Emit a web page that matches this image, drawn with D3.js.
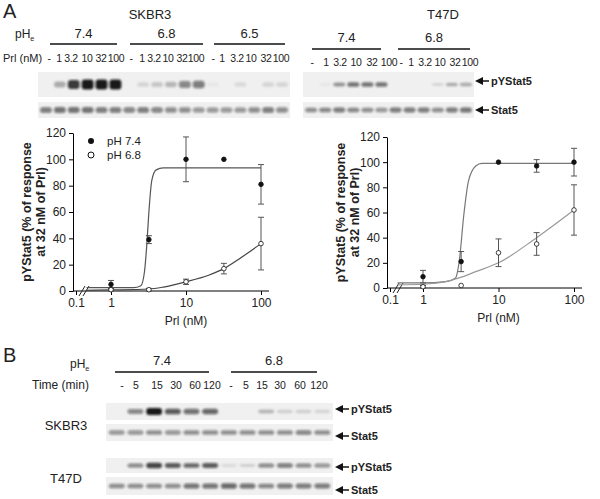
<!DOCTYPE html>
<html><head><meta charset="utf-8">
<script src="https://cdn.jsdelivr.net/npm/d3@7"></script>
<style>body{margin:0;background:#fff}text{font-family:Arial,"Liberation Sans",sans-serif;fill:#222}</style>
</head><body><div id="chart"></div>
<script>
// ---- data ----
const prlLabels = ['-', '1', '3.2', '10', '32', '100'];
const timeLabels = ['-', '5', '15', '30', '60', '120'];
const prlDoses = [1, 3.2, 10, 32, 100];

// band intensities (0..1)
const skbrPY_A = [0, .3, .85, 1, 1, 1, 0, .12, .18, .25, .5, .55, .04, 0, .1, 0, .12, .12];
const skbrStat_A = [.7, .75, .75, .75, .7, .7, .65, .7, .65, .6, .6, .55, .55, .55, .55, .6, .7, .6];
const t47PY_A = [0, .05, .4, .6, .6, .6, 0, 0, 0, .12, .3, .35];
const t47Stat_A = [.6, .65, .7, .65, .6, .55, .7, .7, .7, .6, .7, .75];
const skbrPY_B = [0, .5, 1, .7, .6, .65, 0, 0, .25, .15, .15, .12];
const skbrStat_B = [.55, .55, .6, .55, .6, .6, .6, .6, .6, .6, .65, .6];
const t47PY_B = [0, .5, .8, .7, .65, .7, .1, .15, .5, .55, .5, .45];
const t47Stat_B = [.6, .6, .6, .6, .75, .75, .8, .75, .65, .7, .7, .7];

// dose response, SKBR3
const sk74 = [5, 39, 100, 100, 81];
const sk74Err = [3, 3, 17, 0, 15];
const sk68 = [1, 1, 7, 17, 36];
const sk68Err = [1, 1, 2, 4, 20];
const sk74FitX = [0.2, 1, 2, 2.5, 2.8, 3, 3.2, 3.5, 4, 5, 100];
const sk74FitY = [2.5, 2.5, 2.5, 4, 15, 35, 60, 84, 92, 93.5, 93.5];
const sk68FitX = [0.2, 1, 3.2, 5, 10, 20, 32, 50, 100];
const sk68FitY = [0.5, 0.8, 1.5, 3, 7, 12, 17, 24, 36];
// dose response, T47D
const t74 = [9, 21, 100, 97, 100];
const t74Err = [5, 8, 0, 5, 11];
const t68 = [1, 2, 28, 35, 62];
const t68Err = [1, 0, 11, 9, 20];
const t74FitX = [0.17, 1, 2, 2.7, 3, 3.5, 4, 5, 6, 100];
const t74FitY = [4, 4, 5, 8, 20, 60, 85, 97, 99, 99];
const t68FitX = [0.17, 1, 2, 3, 5, 10, 32, 100];
const t68FitY = [2.5, 3, 5, 8, 13, 20, 40, 62];
const yTicks = [0, 20, 40, 60, 80, 100, 120];
const xTicks = [0.1, 1, 10, 100];

const svg = d3.select('#chart').append('svg').attr('width', 600).attr('height', 499);
const defs = svg.append('defs');
defs.append('filter').attr('id', 'blur').attr('x', '-50%').attr('y', '-50%').attr('width', '200%').attr('height', '200%')
  .append('feGaussianBlur').attr('stdDeviation', 1.1);

function txt(x, y, s, size, opts = {}) {
  return svg.append('text').attr('x', x).attr('y', y).attr('font-size', size)
    .attr('text-anchor', opts.anchor || 'middle').attr('font-weight', opts.bold ? 'bold' : null).text(s);
}
function phe(x, y, size) {
  const t = txt(x, y, 'pH', size, { anchor: 'start' });
  t.append('tspan').attr('font-size', size * 0.6).attr('dy', 3).text('e');
}

// blot strip: lanes spread across [x0,x1]
function blot(x0, x1, y0, y1, vals, bandH, maxOp) {
  svg.append('rect').attr('x', x0).attr('y', y0).attr('width', x1 - x0).attr('height', y1 - y0).attr('fill', '#f0f0f0');
  const lane = d3.scaleBand().domain(d3.range(vals.length)).range([x0, x1]).padding(0.15);
  const op = d3.scaleLinear().domain([0, 1]).range([0, maxOp]);
  svg.append('g').attr('filter', 'url(#blur)').selectAll('rect').data(vals).join('rect')
    .attr('x', (d, i) => lane(i)).attr('width', lane.bandwidth())
    .attr('y', d => (y0 + y1) / 2 - bandH * (0.4 + d * 0.6) / 2)
    .attr('height', d => bandH * (0.4 + d * 0.6))
    .attr('rx', 3).attr('fill', '#111').attr('opacity', d => op(d));
}
function arrowLabel(x, y, s, size) {
  svg.append('path').attr('d', `M${x},${y} l8,-4 v8 z`).attr('fill', '#111');
  svg.append('line').attr('x1', x + 6).attr('x2', x + 14).attr('y1', y).attr('y2', y).attr('stroke', '#111').attr('stroke-width', 1.5);
  txt(x + 16, y + 4, s, size, { anchor: 'start', bold: true });
}
function groupLine(x0, x1, y) {
  svg.append('line').attr('x1', x0).attr('x2', x1).attr('y1', y).attr('y2', y).attr('stroke', '#111').attr('stroke-width', 1.3);
}

// ---- panel A header ----
txt(3, 18, 'A', 20, { anchor: 'start' });
txt(150, 19, 'SKBR3', 13);
txt(443, 19, 'T47D', 13);
phe(15, 38, 12);
txt(3, 62, 'Prl (nM)', 11, { anchor: 'start' });
[['7.4', 50, 117], ['6.8', 130, 203], ['6.5', 214, 285]].forEach(([s, a, b]) => { txt((a + b) / 2, 38, s, 13); groupLine(a, b, 44); });
[['7.4', 312, 381], ['6.8', 398, 470]].forEach(([s, a, b]) => { txt((a + b) / 2, 42, s, 13); groupLine(a, b, 49); });
const skLaneX = [49, 59, 71, 87, 101, 116, 131, 142, 154, 168, 182, 196, 213, 222, 237, 251, 266, 281];
skLaneX.forEach((x, i) => txt(x, 62, prlLabels[i % 6], 10.5).attr('letter-spacing', -0.4));
const tLaneX = [312, 326, 340, 356, 372, 389, 401, 411, 425, 440, 455, 470];
tLaneX.forEach((x, i) => txt(x, 66, prlLabels[i % 6], 10.5).attr('letter-spacing', -0.4));
blot(38, 290, 72, 97, skbrPY_A, 10, 0.95);
blot(38, 290, 102, 118, skbrStat_A, 7, 0.75);
blot(303, 474, 72, 97, t47PY_A, 6, 0.95);
blot(303, 474, 102, 118, t47Stat_A, 6, 0.75);
arrowLabel(475, 81, 'pYStat5', 11);
arrowLabel(475, 110, 'Stat5', 11);

// ---- dose-response charts ----
function doseChart(xr, yr, pts74, err74, pts68, err68, fit74, fit68, curveColor) {
  const x = d3.scaleLog().domain([0.1, 1, 100]).range(xr);
  const y = d3.scaleLinear().domain([0, 120]).range(yr);
  const g = svg.append('g');
  g.append('g').attr('transform', `translate(${xr[0] - 3},0)`)
    .call(d3.axisLeft(y).tickValues(yTicks).tickSize(4).tickSizeOuter(0))
    .call(a => a.selectAll('text').attr('font-size', 12).attr('fill', '#222'));
  g.append('g').attr('transform', `translate(0,${yr[0]})`)
    .call(d3.axisBottom(x).tickValues(xTicks).tickFormat(d3.format('')).tickSize(4).tickSizeOuter(0))
    .call(a => a.select('.domain').attr('d', `M${xr[0] - 3},0H${xr[2] + 8}`))
    .call(a => a.selectAll('text').attr('font-size', 12).attr('fill', '#222'));
  // axis break marks
  const bx = x(0.1) + 6;
  [0, 4].forEach(o => g.append('line').attr('x1', bx + o - 3).attr('x2', bx + o + 3).attr('y1', yr[0] + 5).attr('y2', yr[0] - 5).attr('stroke', '#222'));
  const line = d3.line().x(d => x(d[0])).y(d => y(d[1])).curve(d3.curveMonotoneX);
  [[fit74, curveColor[0]], [fit68, curveColor[1]]].forEach(([f, c]) =>
    g.append('path').attr('d', line(d3.zip(f[0], f[1]))).attr('fill', 'none').attr('stroke', c).attr('stroke-width', 1.2));
  [[pts74, err74, '#111'], [pts68, err68, '#fff']].forEach(([p, e, fill]) => {
    const s = g.append('g');
    s.selectAll('path.err').data(prlDoses).join('path').attr('class', 'err')
      .attr('d', (d, i) => e[i] ? `M${x(d) - 3},${y(p[i] + e[i])}h6M${x(d)},${y(p[i] + e[i])}V${y(p[i] - e[i])}M${x(d) - 3},${y(p[i] - e[i])}h6` : '')
      .attr('stroke', '#555').attr('fill', 'none');
    s.selectAll('circle').data(prlDoses).join('circle').attr('cx', d => x(d)).attr('cy', (d, i) => y(p[i]))
      .attr('r', 2.3).attr('fill', fill).attr('stroke', '#111').attr('stroke-width', 0.8);
  });
  txt(x(10), yr[0] + 34, 'Prl (nM)', 12);
  const lx = xr[0] - 45, ly = (yr[0] + yr[1]) / 2;
  txt(0, 0, 'pYStat5 (% of response', 12.5, { bold: true }).attr('transform', `translate(${lx},${ly}) rotate(-90)`);
  txt(0, 0, 'at 32 nM of Prl)', 12.5, { bold: true }).attr('transform', `translate(${lx + 14},${ly}) rotate(-90)`);
}
doseChart([76, 111, 261], [291, 133], sk74, sk74Err, sk68, sk68Err, [sk74FitX, sk74FitY], [sk68FitX, sk68FitY], ['#555', '#444']);
doseChart([390, 423, 574], [288, 137], t74, t74Err, t68, t68Err, [t74FitX, t74FitY], [t68FitX, t68FitY], ['#777', '#999']);
// legend
svg.append('circle').attr('cx', 91).attr('cy', 141).attr('r', 3).attr('fill', '#111');
svg.append('circle').attr('cx', 91).attr('cy', 155).attr('r', 3).attr('fill', '#fff').attr('stroke', '#111');
txt(107, 145, 'pH 7.4', 11.5, { anchor: 'start' });
txt(107, 159, 'pH 6.8', 11.5, { anchor: 'start' });

// ---- panel B ----
txt(3, 362, 'B', 20, { anchor: 'start' });
phe(70, 368, 12);
txt(32, 389, 'Time (min)', 12, { anchor: 'start' });
[['7.4', 115, 209], ['6.8', 231, 317]].forEach(([s, a, b]) => { txt((a + b) / 2, 365, s, 13); groupLine(a, b, 372); });
const bLaneX = [122, 136, 157, 176, 195, 212, 231, 246, 262, 280, 300, 319];
bLaneX.forEach((x, i) => txt(x, 389, timeLabels[i % 6], 10.5));
blot(106, 333, 403, 420, skbrPY_B, 7, 0.95);
blot(106, 333, 424, 441, skbrStat_B, 6, 0.75);
blot(106, 333, 458, 473, t47PY_B, 6, 0.95);
blot(106, 333, 477, 495, t47Stat_B, 6, 0.75);
txt(66, 430, 'SKBR3', 13);
txt(66, 483, 'T47D', 13);
arrowLabel(335, 409, 'pYStat5', 11);
arrowLabel(335, 436, 'Stat5', 11);
arrowLabel(335, 467, 'pYStat5', 11);
arrowLabel(335, 490, 'Stat5', 11);
</script></body></html>
